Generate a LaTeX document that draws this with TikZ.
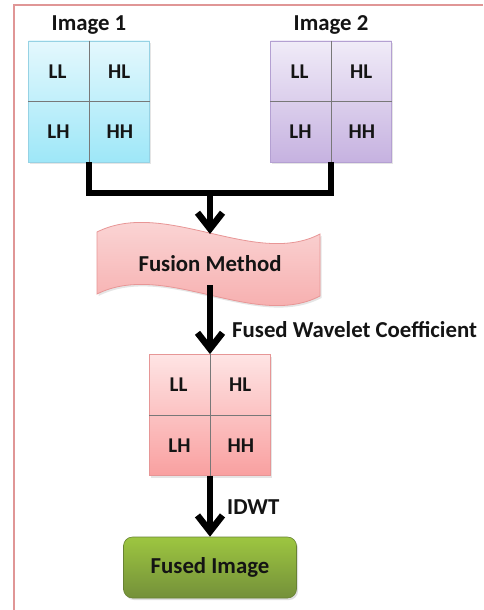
\documentclass[tikz,border=0pt]{standalone}
\usepackage{fontspec}
\setmainfont{Carlito}
\usetikzlibrary{arrows.meta,shadows}
\definecolor{frame}{RGB}{224,150,150}
\definecolor{txt}{RGB}{20,20,20}
\definecolor{cyanT}{RGB}{228,248,253}
\definecolor{cyanB}{RGB}{158,231,248}
\definecolor{cyanD}{RGB}{150,210,228}
\definecolor{lavT}{RGB}{240,235,248}
\definecolor{lavB}{RGB}{198,178,224}
\definecolor{lavD}{RGB}{180,160,210}
\definecolor{pinkT}{RGB}{254,228,228}
\definecolor{pinkB}{RGB}{249,160,160}
\definecolor{pinkD}{RGB}{230,150,150}
\definecolor{waveT}{RGB}{251,222,222}
\definecolor{waveB}{RGB}{246,166,166}
\definecolor{waveD}{RGB}{232,150,150}
\definecolor{greenT}{RGB}{157,198,64}
\definecolor{greenB}{RGB}{116,144,58}
\definecolor{gridline}{RGB}{120,120,120}
\begin{document}
\begin{tikzpicture}[x=1pt,y=-1pt,
  gridbox/.style n args={3}{draw=#3, line width=0.8pt, top color=#1, bottom color=#2,
     minimum width=121pt, minimum height=121pt, inner sep=0pt,
     drop shadow={shadow xshift=1.5pt, shadow yshift=-2pt, opacity=0.2}},
  cell/.style={font=\fontsize{21}{25}\selectfont\bfseries, text=txt, inner sep=0pt},
  title/.style={font=\fontsize{22.8}{27}\selectfont\bfseries, text=txt, inner sep=0pt},
  inner/.style={draw=gridline, line width=0.8pt},
  conn/.style={line width=6.5pt, line join=miter, black},
  arrowc/.style={conn, -{Straight Barb[length=16pt,width=25pt]}}
]
\useasboundingbox (0,0) rectangle (483,610);
\fill[white] (0,0) rectangle (483,610);
% frame
\draw[frame, line width=2pt] (14,610) -- (14,5) -- (483,5);

% titles
\node[title] (t1) at (89,25) {Image 1};
\node[title] (t2) at (331,25) {Image 2};

% grids
\node[gridbox={cyanT}{cyanB}{cyanD}] (g1) at (89,101.5) {};
\node[gridbox={lavT}{lavB}{lavD}] (g2) at (331,101.5) {};
\node[gridbox={pinkT}{pinkB}{pinkD}] (g3) at (210,415) {};
\foreach \g in {g1,g2,g3}{
  \draw[inner] (\g.north) -- (\g.south);
  \draw[inner] (\g.west) -- (\g.east);
}
% cell labels
\node[cell] (aLL) at (57.5,71.25) {LL};
\node[cell] (aHL) at (119.25,71.25) {HL};
\node[cell] (aLH) at (58.5,131.75) {LH};
\node[cell] (aHH) at (119.75,131.75) {HH};
\node[cell] (bLL) at (299.5,71.25) {LL};
\node[cell] (bHL) at (361.25,71.25) {HL};
\node[cell] (bLH) at (300.5,131.75) {LH};
\node[cell] (bHH) at (361.75,131.75) {HH};
\node[cell] (cLL) at (178.5,384.75) {LL};
\node[cell] (cHL) at (240.25,384.75) {HL};
\node[cell] (cLH) at (179.5,445.25) {LH};
\node[cell] (cHH) at (240.75,445.25) {HH};

% wave (Fusion Method)
\path[draw=waveD, line width=0.8pt, top color=waveT, bottom color=waveB,
      drop shadow={shadow xshift=1.5pt, shadow yshift=-2pt, opacity=0.2}]
  (97,232) .. controls (165,198) and (255,268) .. (320,234)
  -- (320,296) .. controls (255,330) and (165,260) .. (97,294) -- cycle;
\node[title] (fm) at (210,264) {Fusion Method};
\coordinate (wtop) at (210,234);
\coordinate (wbot) at (210,285);

% fused image
\node[draw=greenB!90!black, line width=0.6pt, rounded corners=9pt, top color=greenT, bottom color=greenB,
      minimum width=173pt, minimum height=61pt, inner sep=0pt, title,
      drop shadow={shadow xshift=1.5pt, shadow yshift=-2pt, opacity=0.25}] (fi) at (210,567.5) {Fused Image};

% connectors
\coordinate (jn) at (210,193);
\draw[conn] (g1.south) |- (jn) -| (g2.south);
\draw[arrowc] (jn) -- (wtop);
\draw[arrowc] (wbot) -- (g3.north);
\draw[arrowc] (g3.south) -- (fi.north);

% labels
\node[title, anchor=west] (lfw) at (232,330) {Fused Wavelet Coefficient};
\node[title, anchor=west] (lid) at (227,507) {IDWT};
\end{tikzpicture}
\end{document}
